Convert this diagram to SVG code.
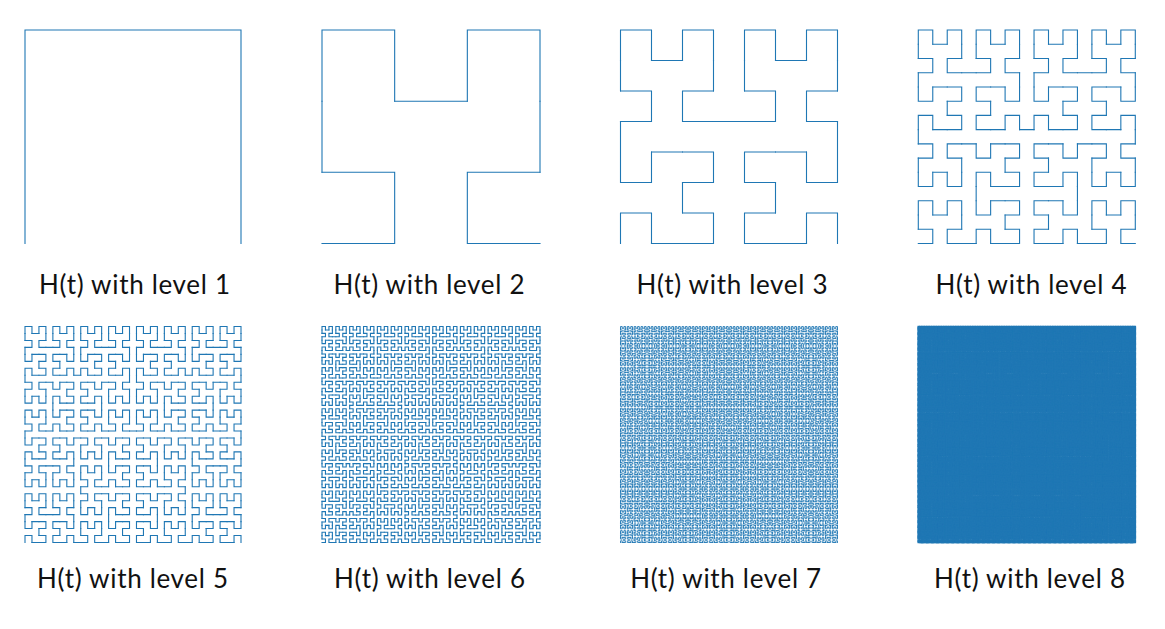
<svg xmlns="http://www.w3.org/2000/svg" xmlns:xlink="http://www.w3.org/1999/xlink" width="1165" height="629" viewBox="0 0 1165 629">
<style>
.curve{fill:none;stroke:#1f77b4;stroke-linecap:square;stroke-linejoin:miter}
.lbl{font-family:Lato,"Open Sans","Liberation Sans",sans-serif;font-size:26px;fill:#111;text-anchor:middle}
</style>
<defs>
<path id="h1" d="M0,1V0H1V1"/>
<g id="h2">
<use href="#h1" transform="matrix(0,-1,-1,0,1,3)"/><use href="#h1"/><use href="#h1" transform="translate(2,0)"/><use href="#h1" transform="matrix(0,1,1,0,2,2)"/>
<path d="M0,2V1M1,1H2M3,1V2"/>
</g>
<g id="h3">
<use href="#h2" transform="matrix(0,-1,-1,0,3,7)"/><use href="#h2"/><use href="#h2" transform="translate(4,0)"/><use href="#h2" transform="matrix(0,1,1,0,4,4)"/>
<path d="M0,4V3M3,3H4M7,3V4"/>
</g>
<g id="h4">
<use href="#h3" transform="matrix(0,-1,-1,0,7,15)"/><use href="#h3"/><use href="#h3" transform="translate(8,0)"/><use href="#h3" transform="matrix(0,1,1,0,8,8)"/>
<path d="M0,8V7M7,7H8M15,7V8"/>
</g>
<g id="h5">
<use href="#h4" transform="matrix(0,-1,-1,0,15,31)"/><use href="#h4"/><use href="#h4" transform="translate(16,0)"/><use href="#h4" transform="matrix(0,1,1,0,16,16)"/>
<path d="M0,16V15M15,15H16M31,15V16"/>
</g>
<g id="h6">
<use href="#h5" transform="matrix(0,-1,-1,0,31,63)"/><use href="#h5"/><use href="#h5" transform="translate(32,0)"/><use href="#h5" transform="matrix(0,1,1,0,32,32)"/>
<path d="M0,32V31M31,31H32M63,31V32"/>
</g>
<g id="h7">
<use href="#h6" transform="matrix(0,-1,-1,0,63,127)"/><use href="#h6"/><use href="#h6" transform="translate(64,0)"/><use href="#h6" transform="matrix(0,1,1,0,64,64)"/>
<path d="M0,64V63M63,63H64M127,63V64"/>
</g>
<g id="h8">
<use href="#h7" transform="matrix(0,-1,-1,0,127,255)"/><use href="#h7"/><use href="#h7" transform="translate(128,0)"/><use href="#h7" transform="matrix(0,1,1,0,128,128)"/>
<path d="M0,128V127M127,127H128M255,127V128"/>
</g>
</defs>
<rect width="1165" height="629" fill="#fff"/>
<g id="level1">
<use href="#h1" class="curve" transform="translate(25,30) scale(216,213.5)" stroke-width="0.00509"/>
<text class="lbl" x="134.5" y="294" textLength="191">H(t) with level 1</text>
</g>
<g id="level2">
<use href="#h2" class="curve" transform="translate(322,30) scale(72.667,71.167)" stroke-width="0.01514"/>
<text class="lbl" x="429" y="294" textLength="191">H(t) with level 2</text>
</g>
<g id="level3">
<use href="#h3" class="curve" transform="translate(620.5,30) scale(31,30.5)" stroke-width="0.0355"/>
<text class="lbl" x="732" y="294" textLength="191">H(t) with level 3</text>
</g>
<g id="level4">
<use href="#h4" class="curve" transform="translate(918.3,30) scale(14.4667,14.2333)" stroke-width="0.076"/>
<text class="lbl" x="1031" y="294" textLength="191">H(t) with level 4</text>
</g>
<g id="level5">
<use href="#h5" class="curve" transform="translate(25,326.5) scale(6.9677,6.9677)" stroke-width="0.158"/>
<text class="lbl" x="132.5" y="588" textLength="191">H(t) with level 5</text>
</g>
<g id="level6">
<use href="#h6" class="curve" transform="translate(322,326.5) scale(3.4603,3.4286)" stroke-width="0.318"/>
<text class="lbl" x="429.5" y="588" textLength="191">H(t) with level 6</text>
</g>
<g id="level7">
<use href="#h7" class="curve" transform="translate(620.5,326.5) scale(1.7087,1.7008)" stroke-width="0.5"/>
<text class="lbl" x="725.7" y="588" textLength="191">H(t) with level 7</text>
</g>
<g id="level8">
<use href="#h8" class="curve" transform="translate(918.3,326.5) scale(0.851,0.847)" stroke-width="1.8"/>
<text class="lbl" x="1029.5" y="588" textLength="191">H(t) with level 8</text>
</g>
</svg>
